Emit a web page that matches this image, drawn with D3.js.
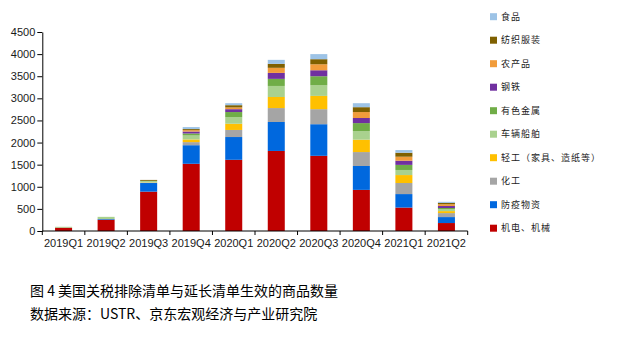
<!DOCTYPE html>
<html>
<head>
<meta charset="utf-8">
<script src="https://cdn.jsdelivr.net/npm/d3@7"></script>
<style>
  html, body { margin: 0; padding: 0; background: #fff; }
  svg { display: block; }
</style>
</head>
<body>
<svg id="chart" width="621" height="342"></svg>
<script>
// Quarters on the x axis
const quarters = ["2019Q1", "2019Q2", "2019Q3", "2019Q4", "2020Q1", "2020Q2", "2020Q3", "2020Q4", "2021Q1", "2021Q2"];

// Number of products per category and quarter (stacked bottom to top)
const jidian   = [75, 255, 890, 1520, 1610, 1810, 1700, 930, 530, 180];   // 机电、机械
const fangyi   = [0, 15, 195, 420, 515, 655, 715, 540, 305, 135];         // 防疫物资
const huagong  = [0, 0, 10, 70, 160, 315, 340, 315, 250, 90];             // 化工
const qinggong = [0, 0, 5, 60, 140, 250, 300, 280, 180, 45];              // 轻工
const cheliang = [20, 50, 30, 90, 150, 250, 240, 195, 115, 45];           // 车辆船舶
const youse    = [0, 0, 5, 45, 115, 160, 205, 180, 115, 25];              // 有色金属
const gangtie  = [0, 0, 0, 45, 65, 135, 135, 115, 95, 45];                // 钢铁
const nongchan = [0, 0, 0, 30, 40, 115, 135, 135, 90, 40];                // 农产品
const fangzhi  = [0, 0, 20, 25, 50, 90, 115, 110, 90, 30];                // 纺织服装
const shipin   = [0, 0, 0, 45, 45, 90, 115, 90, 60, 25];                  // 食品

const seriesNames = ["机电、机械", "防疫物资", "化工", "轻工（家具、造纸等）", "车辆船舶", "有色金属", "钢铁", "农产品", "纺织服装", "食品"];
const seriesValues = [jidian, fangyi, huagong, qinggong, cheliang, youse, gangtie, nongchan, fangzhi, shipin];
const seriesColors = ["#C00000", "#0068DE", "#A5A5A5", "#FFC000", "#A9D18E", "#70AD47", "#7030A0", "#F19C3B", "#7F6000", "#9DC3E6"];

const yTicks = [0, 500, 1000, 1500, 2000, 2500, 3000, 3500, 4000, 4500];

const captionTitle = "图 4 美国关税排除清单与延长清单生效的商品数量";
const captionSource = "数据来源：USTR、京东宏观经济与产业研究院";

// Build a table of rows for d3.stack
const rows = quarters.map((q, i) => {
  const r = { quarter: q };
  seriesNames.forEach((n, k) => { r[n] = seriesValues[k][i]; });
  return r;
});
const stacked = d3.stack().keys(seriesNames)(rows);

const svg = d3.select("#chart");
const axisFont = "'Liberation Sans', Arial, sans-serif";
const cjkFont = "'Noto Sans CJK SC', sans-serif";

const plotLeft = 42.3, plotRight = 467.7, plotTop = 32, plotBottom = 231;

const y = d3.scaleLinear().domain([0, 4500]).range([plotBottom, plotTop]);
const xCat = d3.scaleBand().domain(quarters).range([plotLeft, plotRight]).padding(0);
const xBar = d3.scaleBand().domain(quarters).range([plotLeft, plotRight]).paddingInner(0.6).paddingOuter(0.3);

// Bars
svg.append("g")
  .selectAll("g")
  .data(stacked)
  .join("g")
  .attr("fill", (d, i) => seriesColors[i])
  .selectAll("rect")
  .data(d => d)
  .join("rect")
  .attr("x", d => xBar(d.data.quarter))
  .attr("width", xBar.bandwidth())
  .attr("y", d => y(d[1]))
  .attr("height", d => y(d[0]) - y(d[1]));

// Y axis
const yAxis = svg.append("g")
  .attr("transform", `translate(${plotLeft},0)`)
  .call(d3.axisLeft(y).tickValues(yTicks).tickFormat(d3.format("d")).tickSize(5).tickSizeOuter(0).tickPadding(2));
yAxis.select(".domain").attr("stroke", "#000");
yAxis.selectAll(".tick line").attr("stroke", "#000");
yAxis.selectAll(".tick text")
  .attr("font-family", axisFont)
  .attr("font-size", 11)
  .attr("fill", "#1a1a1a");

// X axis: line, boundary ticks and centred labels
const xg = svg.append("g");
xg.append("line")
  .attr("x1", plotLeft).attr("x2", plotRight)
  .attr("y1", y(0)).attr("y2", y(0))
  .attr("stroke", "#000");
const bounds = quarters.map(q => xCat(q)).concat([xCat.range()[1]]);
xg.selectAll("line.tick")
  .data(bounds)
  .join("line")
  .attr("class", "tick")
  .attr("x1", d => d).attr("x2", d => d)
  .attr("y1", y(0)).attr("y2", y(0) + 4)
  .attr("stroke", "#000");
xg.selectAll("text")
  .data(quarters)
  .join("text")
  .attr("x", d => xCat(d) + xCat.bandwidth() / 2)
  .attr("y", 247)
  .attr("text-anchor", "middle")
  .attr("font-family", axisFont)
  .attr("font-size", 11)
  .attr("fill", "#1a1a1a")
  .text(d => d);

// Legend (top entry is the last series)
const legendOrder = seriesNames.map((n, i) => i).reverse();
const legend = svg.append("g");
const lg = legend.selectAll("g")
  .data(legendOrder)
  .join("g")
  .attr("transform", (d, j) => `translate(490,${16.7 + j * 23.5})`);
lg.append("rect")
  .attr("x", 0).attr("y", -3.5)
  .attr("width", 7).attr("height", 7)
  .attr("fill", d => seriesColors[d]);
lg.append("text")
  .attr("x", 11)
  .attr("y", 0)
  .attr("dy", "0.35em")
  .attr("font-family", cjkFont)
  .attr("font-size", 9)
  .attr("letter-spacing", 1)
  .attr("fill", "#222")
  .text(d => seriesNames[d]);

// Caption
svg.append("text")
  .attr("x", 30).attr("y", 296)
  .attr("font-family", cjkFont)
  .attr("font-size", 14)
  .attr("fill", "#000")
  .attr("xml:space", "preserve")
  .style("white-space", "pre")
  .text(captionTitle);
svg.append("text")
  .attr("x", 30).attr("y", 319)
  .attr("font-family", cjkFont)
  .attr("font-size", 14)
  .attr("fill", "#000")
  .text(captionSource);
</script>
</body>
</html>
